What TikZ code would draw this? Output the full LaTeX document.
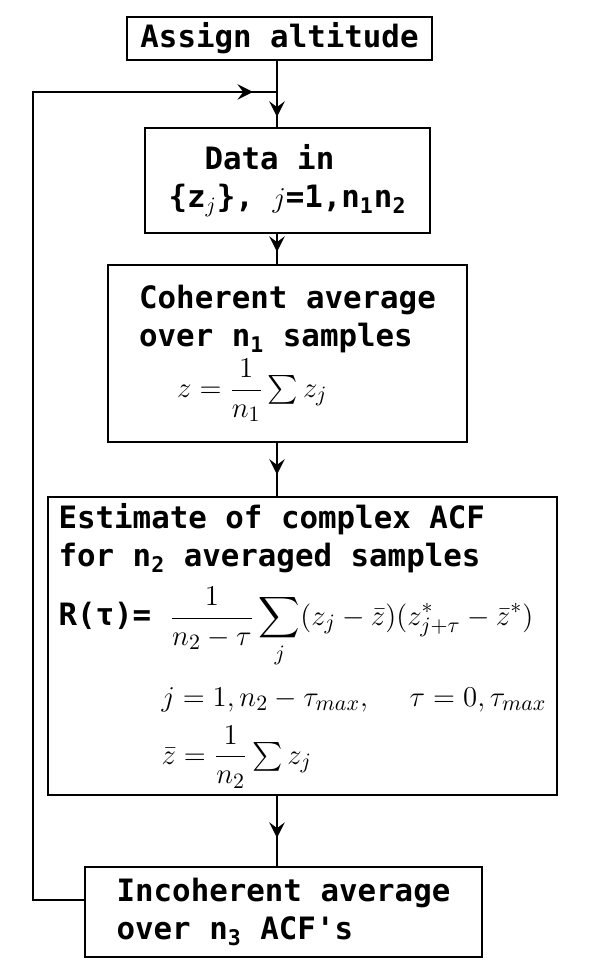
\documentclass[tikz,border=0pt]{standalone}
\usepackage{amsmath}
\usepackage{fontspec}
\setmainfont{DejaVu Sans Mono}
\usetikzlibrary{decorations.markings}

\tikzset{
  box/.style={draw, line width=1.4pt, inner sep=1pt, align=left,
    font=\fontsize{15.4}{19}\selectfont\bfseries},
  flow/.style={line width=1.4pt},
  midarrow/.style={postaction={decorate}, decoration={markings,
    mark=at position #1 with {\arrow[scale=1.4]{stealth}}}}
}

\begin{document}
\begin{tikzpicture}[x=0.5pt, y=-0.5pt, >=stealth]
    \useasboundingbox (0,0) rectangle (599,961);

    % boxes
    \node[box, minimum width=152.5pt, minimum height=21.5pt] (assign) at (279.5,38.5) {Assign altitude};
    \node[box, minimum width=142.5pt, minimum height=52.5pt] (datain) at (287.5,180.5)
        {\hspace*{18pt}Data in\\\{z\textsubscript{$j$}\}, $j$=1,n\textsubscript{1}n\textsubscript{2}};
    \node[box, minimum width=179.5pt, minimum height=88.5pt] (coherent) at (287.5,353.5)
        {Coherent average\\over n\textsubscript{1} samples\\[2pt]
         \hspace*{19pt}$z = \dfrac{1}{n_1}\sum z_j$};
    \node[box, minimum width=254.5pt, minimum height=149pt] (estimate) at (302.5,646)
        {Estimate of complex ACF\\for n\textsubscript{2} averaged samples\\[6pt]
         R(τ)= $\dfrac{1}{n_2-\tau}\displaystyle\sum_j(z_j-\bar z)(z^{*}_{j+\tau}-\bar z^{*})$\\[9pt]
         \hspace*{51.5pt}$j=1,n_2-\tau_{max},\ \ \tau=0,\tau_{max}$\\[6pt]
         \hspace*{51.5pt}$\bar z= \dfrac{1}{n_2}\sum z_j$};
    \node[box, minimum width=198.5pt, minimum height=45pt] (incoherent) at (283.5,912)
        {Incoherent average\\over n\textsubscript{3} ACF\textquotesingle s};

    % spine and loop
    \coordinate (spine) at (277,0);
    \coordinate (join) at (277,92);
    \coordinate (loopbot) at (33,900);
    \coordinate (looptop) at (33,92);

    \draw[flow] (assign.south -| spine) -- (join);
    \draw[flow, midarrow=0.72] (join) -- (datain.north -| spine);
    \draw[flow, midarrow=0.6] (datain.south -| spine) -- (coherent.north -| spine);
    \draw[flow, midarrow=0.6] (coherent.south -| spine) -- (estimate.north -| spine);
    \draw[flow, midarrow=0.6] (estimate.south -| spine) -- (incoherent.north -| spine);
    \draw[flow, midarrow=-12pt] (incoherent.west |- loopbot) -- (loopbot) -- (looptop) -- (join);
\end{tikzpicture}
\end{document}
